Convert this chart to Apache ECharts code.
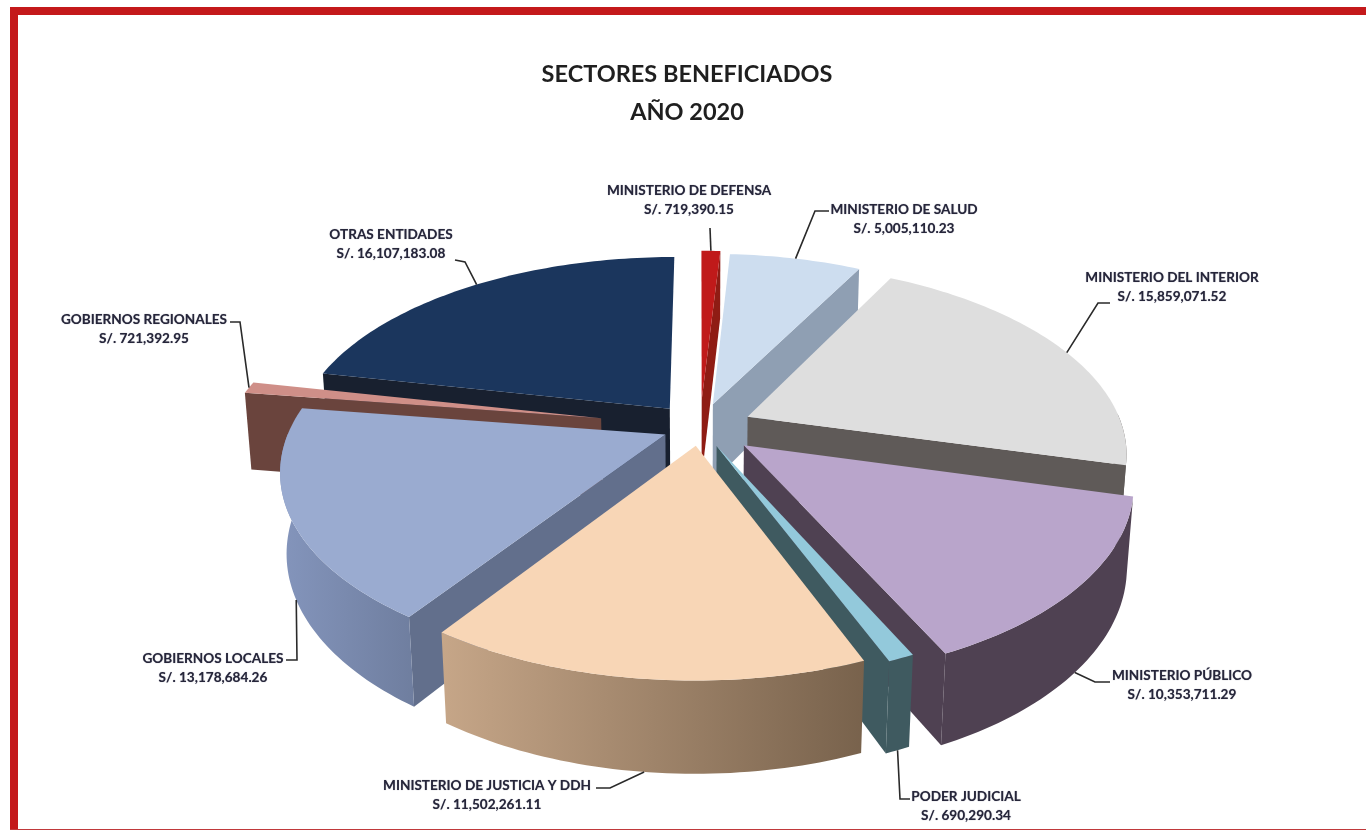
<!DOCTYPE html>
<html><head><meta charset="utf-8">
<style>html,body{margin:0;padding:0;background:#fff}#c{width:1366px;height:830px}</style>
<script src="https://cdn.jsdelivr.net/npm/echarts@6/dist/echarts.min.js"></script>
</head><body><div id="c"></div>
<script>
// ---- data ----
const categories = ['MINISTERIO DE DEFENSA','MINISTERIO DE SALUD','MINISTERIO DEL INTERIOR','MINISTERIO PÚBLICO','PODER JUDICIAL','MINISTERIO DE JUSTICIA Y DDH','GOBIERNOS LOCALES','GOBIERNOS REGIONALES','OTRAS ENTIDADES'];
const values = [719390.15,5005110.23,15859071.52,10353711.29,690290.34,11502261.11,13178684.26,721392.95,16107183.08];
const valueLabels = ['S/. 719,390.15','S/. 5,005,110.23','S/. 15,859,071.52','S/. 10,353,711.29','S/. 690,290.34','S/. 11,502,261.11','S/. 13,178,684.26','S/. 721,392.95','S/. 16,107,183.08'];
// ---- style / layout ----
const topColors  = ['#c01a1a','#cdddef','#dedede','#b9a5cb','#93c9db','#f8d6b6','#9aabd0','#cf8f88','#1b365d'];
const cutColors  = ['#8f1c14','#8f9fb3','#5f5a58','#4f4152','#3f5a60','#78624c','#626f8c','#6a443d','#18202f'];
const wallFrom   = ['#8f1c14','#8f9fb3','#5f5a58','#4f4152','#3f5a60','#c6a688','#8495bc','#6a443d','#18202f'];
const wallTo     = ['#8f1c14','#8f9fb3','#5f5a58','#4f4152','#3f5a60','#78624c','#6f7e9f','#6a443d','#18202f'];
const explode    = [0.15,0.13,0.14,0.15,0.11,0.10,0.10,0.27,0.13];
const paintOrder = [8,1,0,2,7,6,3,4,5];
const labelPos   = [[689,191],[904,210],[1172,278],[1182,676],[966,797],[487,786],[213,659],[144,320],[391,235]];
const leaderFrac = [0.5,0.5,0.52,0.5,0.5,0.5,0.5,0.5,0.52];     // where on the arc each leader lands
const leaderDrop = [0,0,0,1,1,1,1,0,0];                          // leader lands on the bottom of the wall
const leaderPath = [[[710,228]],[[829,211],[815,211]],[[1110,303],[1098,303]],[[1110,682],[1095,682]],[[910,799],[900,799]],[[596,788],[610,788]],[[286,660],[297,660]],[[230,322],[240,322]],[[455,260],[465,262]]];
const P = {cx:700, cy:427, R:375, Ry:185, H:80, k:0.18, m:0.015};

const total = values.reduce((a,b)=>a+b,0);
const starts = []; { let acc=0; values.forEach(v=>{starts.push(acc); acc+=v/total*Math.PI*2;}); }

function project(u,v,z){
  const s = 1/(1-P.k*v+P.m*z);
  return [P.cx+P.R*u*s, P.cy+(P.Ry*v+P.H*z)*s];
}
function geometry(i,val){
  const a0=starts[i], a1=a0+val/total*Math.PI*2, mid=(a0+a1)/2, d=explode[i];
  const ox=d*Math.sin(mid), oy=-d*Math.cos(mid);
  const pt=(a,z)=>project(ox+Math.sin(a),oy-Math.cos(a),z);
  const apex=z=>project(ox,oy,z);
  const angles=()=>{const n=Math.max(4,Math.ceil((a1-a0)/0.02)),r=[];for(let j=0;j<=n;j++)r.push(a0+(a1-a0)*j/n);return r;};
  return {a0,a1,pt,apex,angles};
}
function renderSlice(params,api){
  const i=api.value(0), val=api.value(1), g=geometry(i,val);
  const poly=(pts,fill)=>({type:'polygon',shape:{points:pts},style:{fill:fill},silent:true});
  const children=[];
  if(Math.sin(g.a0)<0) children.push(poly([g.apex(0),g.pt(g.a0,0),g.pt(g.a0,1),g.apex(1)],cutColors[i]));
  if(Math.sin(g.a1)>0.01) children.push(poly([g.apex(0),g.pt(g.a1,0),g.pt(g.a1,1),g.apex(1)],cutColors[i]));
  const all=g.angles(), front=all.filter(a=>Math.cos(a)<0.02);
  if(front.length>1){
    const t=front.map(a=>g.pt(a,0)), b=front.map(a=>g.pt(a,1));
    children.push(poly(t.concat(b.reverse()),new echarts.graphic.LinearGradient(0,0,1,0,[{offset:0,color:wallFrom[i]},{offset:1,color:wallTo[i]}])));
  }
  children.push(poly([g.apex(0)].concat(all.map(a=>g.pt(a,0))),topColors[i]));
  return {type:'group',children};
}
function renderLabel(params,api){
  const i=api.value(0), val=api.value(1), g=geometry(i,val);
  const anchor=g.pt(g.a0+(g.a1-g.a0)*leaderFrac[i],leaderDrop[i]);
  const txt={font:'bold 13.6px Lato, "Liberation Sans", sans-serif',fill:'#26263a',align:'center',verticalAlign:'middle',textShadowBlur:1,textShadowColor:'rgba(40,40,70,0.55)'};
  return {type:'group',children:[
    {type:'polyline',shape:{points:leaderPath[i].concat([anchor])},style:{fill:null,stroke:'#2a2a2a',lineWidth:1.6},silent:true},
    {type:'text',x:labelPos[i][0],y:labelPos[i][1],style:Object.assign({text:categories[i]},txt),silent:true},
    {type:'text',x:labelPos[i][0],y:labelPos[i][1]+19,style:Object.assign({text:valueLabels[i]},txt),silent:true}
  ]};
}
const chart=echarts.init(document.getElementById('c'),null,{renderer:'canvas'});
chart.setOption({
  animation:false,
  backgroundColor:'#ffffff',
  title:[
    {text:'SECTORES BENEFICIADOS',left:682,top:57,textAlign:'center',textStyle:{fontFamily:'Lato',fontWeight:'bold',fontSize:23.5,color:'#1f1f1f'}},
    {text:'AÑO 2020',left:682,top:95,textAlign:'center',textStyle:{fontFamily:'Lato',fontWeight:'bold',fontSize:23.5,color:'#1f1f1f'}}
  ],
  graphic:[
    {type:'rect',shape:{x:10,y:7,width:1356,height:8},style:{fill:'#c4191b'},silent:true},
    {type:'rect',shape:{x:10,y:7,width:8,height:823},style:{fill:'#c4191b'},silent:true},
    {type:'rect',shape:{x:10,y:829,width:1356,height:1},style:{fill:'#c0393b'},silent:true}
  ],
  series:[
    {type:'custom',coordinateSystem:'none',renderItem:renderSlice,z:2,
     data:paintOrder.map(i=>({name:categories[i],value:[i,values[i]]}))},
    {type:'custom',coordinateSystem:'none',renderItem:renderLabel,z:3,
     data:paintOrder.map(i=>({name:categories[i],value:[i,values[i]]}))}
  ]
});
</script></body></html>
